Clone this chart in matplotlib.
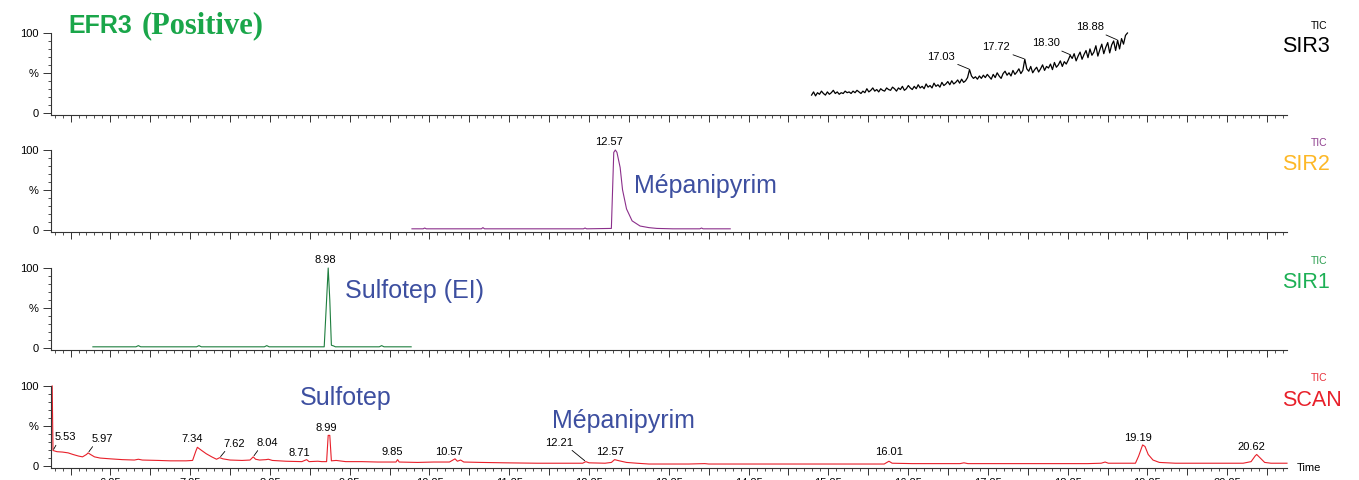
import numpy as np
import matplotlib
matplotlib.use('Agg')
import matplotlib.pyplot as plt


W, H = 1359, 480
X_MIN, X_MAX = 5.505, 21.0

# SIR3 (black): evenly sampled noisy trace between start and end time
SIR3_START, SIR3_END = 15.04, 19.00
SIR3_VALUES = [
    22, 26, 21, 25, 23, 27, 24, 22, 26, 23,
    25, 28, 24, 26, 23, 25, 24, 27, 25, 26,
    24, 27, 25, 28, 26, 24, 27, 25, 30, 26,
    28, 31, 27, 29, 26, 30, 28, 27, 31, 29,
    28, 32, 30, 27, 31, 29, 33, 28, 30, 34,
    31, 29, 33, 30, 35, 31, 33, 30, 36, 32,
    34, 31, 37, 33, 35, 32, 38, 34, 36, 39,
    35, 40, 36, 38, 41, 37, 42, 38, 40, 44,
    54, 46, 43, 45, 42, 46, 43, 47, 44, 48,
    45, 42, 48, 44, 50, 46, 43, 49, 52, 47,
    50, 46, 53, 48, 51, 55, 49, 53, 67, 55,
    52, 58, 50, 54, 57, 51, 55, 60, 53, 58,
    56, 61, 54, 63, 57, 60, 65, 58, 64, 61,
    66, 72, 68, 74, 65, 71, 76, 67, 73, 78,
    69, 80, 72, 76, 84, 71, 79, 86, 74, 82,
    88, 75, 85, 90, 78, 91, 80, 93, 86, 97,
    100,
]
SIR3_PEAKS = ['17.03', '17.72', '18.30', '18.88']
SIR3_PEAK_VALUES = [54, 67, 72, 91]

# SIR2 (purple)
SIR2_TIMES = [10.03, 10.17, 10.19, 10.21, 10.90, 10.92, 10.94, 12.18, 12.20, 12.22,
              12.53, 12.56, 12.58, 12.60, 12.64, 12.67, 12.72, 12.79, 12.89, 13.00,
              13.10, 13.30, 13.64, 13.66, 13.68, 14.02]
SIR2_VALUES = [1, 1, 2, 1, 1, 2.5, 1, 1, 2, 1,
               1.5, 97, 100, 97, 78, 50, 26, 11, 4.5, 2.5,
               1.5, 1, 1, 2, 1, 1]
SIR2_PEAKS = ['12.57']
SIR2_PEAK_VALUES = [100]

# SIR1 (green)
SIR1_TIMES = [6.03, 6.57, 6.60, 6.63, 7.33, 7.36, 7.39, 8.18, 8.21, 8.24,
              8.93, 8.96, 8.98, 9.00, 9.02, 9.05, 9.07, 9.62, 9.65, 9.68, 10.02]
SIR1_VALUES = [1, 1, 2.5, 1, 1, 2.5, 1, 1, 2.5, 1,
               1, 60, 100, 60, 3, 2, 1, 1, 2.5, 1, 1]
SIR1_PEAKS = ['8.98']
SIR1_PEAK_VALUES = [100]

# SCAN (red)
SCAN_TIMES = [5.52, 5.53, 5.58, 5.65, 5.72, 5.78, 5.85, 5.90, 5.95, 5.97,
              6.00, 6.05, 6.12, 6.25, 6.40, 6.55, 6.60, 6.65, 6.85, 7.00,
              7.20, 7.28, 7.32, 7.34, 7.38, 7.45, 7.52, 7.58, 7.62, 7.66,
              7.75, 7.90, 8.00, 8.04, 8.07, 8.12, 8.20, 8.23, 8.28, 8.45,
              8.65, 8.71, 8.74, 8.85, 8.90, 8.96, 8.98, 9.00, 9.02, 9.08,
              9.20, 9.40, 9.60, 9.83, 9.85, 9.87, 10.10, 10.30, 10.50, 10.57,
              10.60, 10.64, 10.68, 10.90, 11.20, 11.60, 12.00, 12.17, 12.21, 12.25,
              12.45, 12.53, 12.57, 12.63, 12.72, 12.85, 13.00, 13.50, 13.70, 13.75,
              14.50, 15.50, 15.95, 16.01, 16.05, 16.30, 16.90, 16.95, 17.00, 17.80,
              18.50, 18.67, 18.72, 18.76, 19.10, 19.14, 19.19, 19.22, 19.26, 19.32,
              19.40, 19.60, 20.00, 20.45, 20.55, 20.60, 20.62, 20.66, 20.72, 20.80,
              21.00]
SCAN_VALUES = [100, 19, 17.5, 17, 16, 14, 12, 11, 14, 16,
               14, 11, 9.5, 8.5, 7.5, 7, 8, 7, 6.5, 6,
               6, 6.5, 18, 23, 20, 15, 11, 8, 10, 8.5,
               7, 6.5, 7, 11, 8, 7, 7.5, 8, 6.5, 5.5,
               5, 7.5, 5, 5.5, 5, 5, 38, 38, 6, 6.5,
               5, 5, 4.5, 4.5, 7.5, 4.5, 4, 4.5, 4.5, 8.5,
               5.5, 7, 4.5, 4, 3.5, 3, 3, 3, 5, 3.5,
               3, 4, 7.5, 6, 4, 3, 2, 2, 2.5, 2,
               2, 2, 2, 5.5, 3, 2.5, 2.5, 3.5, 2.5, 2.5,
               2.5, 3, 4.5, 3, 3, 12, 26, 24, 14, 7,
               4, 3, 3, 3, 5, 12, 14, 10, 4, 3,
               3]
SCAN_PEAKS = ['5.53', '5.97', '7.34', '7.62', '8.04', '8.71', '8.99', '9.85',
              '10.57', '12.21', '12.57', '16.01', '19.19', '20.62']
SCAN_PEAK_VALUES = [19, 16, 23, 10, 11, 7.5, 38, 7.5, 8.5, 5, 7.5, 5.5, 26, 14]

# label offsets in pixels (dx, dy up) and whether a leader line is drawn
LABEL_OFFSETS = {
    '17.03': (-29, 8, True), '17.72': (-29, 7, True),
    '18.30': (-26, 7, True), '18.88': (-28, 8, True),
    '12.57a': (-6, 3, False), '8.98': (-3, 3, False),
    '5.53': (12, 8, True), '5.97': (14, 9, True), '7.34': (-5, 3, False),
    '7.62': (15, 9, True), '8.04': (14, 9, True), '8.71': (-7, 2, False),
    '8.99': (-3, 2, False), '9.85': (-5, 3, False), '10.57': (-6, 2, False),
    '12.21': (-27, 14, True), '12.57': (-5, 3, False), '16.01': (0, 4, False),
    '19.19': (-5, 2, False), '20.62': (-5, 2, False),
}

BLUE = '#3d4fa0'
GREEN_TITLE = '#1aa64a'


def fx(x):
    return x / W


def fy(y):
    return 1 - y / H


def setup_axes(ax, show_labels):
    ax.set_xlim(X_MIN, X_MAX)
    ax.set_ylim(-3, 100)
    ax.patch.set_alpha(0)
    for side in ('top', 'right'):
        ax.spines[side].set_visible(False)
    for side in ('left', 'bottom'):
        ax.spines[side].set_linewidth(0.8)
        ax.spines[side].set_color('#333333')

    major = np.arange(5.75, 21.0, 0.5)
    minor = [t for t in np.arange(5.55, 21.0, 0.1)
             if abs((t - 5.75) / 0.5 - round((t - 5.75) / 0.5)) > 0.05]
    ax.set_xticks(major)
    ax.set_xticks(minor, minor=True)
    if show_labels:
        ax.set_xticklabels(['%.2f' % t if abs(t % 1 - 0.25) < 0.01 else ''
                            for t in major])
    else:
        ax.set_xticklabels([])

    ax.set_yticks([0, 50, 100])
    ax.set_yticklabels(['0', '%', '100'])
    ax.set_yticks([10, 20, 30, 40, 60, 70, 80, 90], minor=True)

    ax.tick_params(which='major', direction='out', length=5, width=0.7,
                   labelsize=8, pad=2, color='#333333')
    ax.tick_params(which='minor', direction='out', length=2.5, width=0.6,
                   color='#333333')
    ax.tick_params(axis='y', which='major', length=6, pad=3)


def label_peaks(ax, peaks, values, key_suffix=''):
    for txt, val in zip(peaks, values):
        key = txt + key_suffix if txt + key_suffix in LABEL_OFFSETS else txt
        dx, dy, leader = LABEL_OFFSETS[key]
        arrow = None
        if leader:
            arrow = dict(arrowstyle='-', lw=0.6, color='black',
                         shrinkA=0, shrinkB=1,
                         relpos=(0.85, 0) if dx < 0 else (0.15, 0))
        ax.annotate(txt, xy=(float(txt), val),
                    xytext=(dx * 0.72, dy * 0.72), textcoords='offset points',
                    ha='center', va='bottom', fontsize=8, color='black',
                    arrowprops=arrow, annotation_clip=False)


def main():
    plt.rcParams['font.family'] = ['Liberation Sans', 'DejaVu Sans']
    fig = plt.figure(figsize=(W / 100, H / 100), dpi=100)

    left = fx(51)
    width = (1287 - 51) / W
    tops = [33, 150, 268, 386]
    height = 82 / H
    axes = []
    for i, top in enumerate(tops):
        ax = fig.add_axes([left, fy(top + 82), width, height])
        setup_axes(ax, i == 3)
        axes.append(ax)

    ax3, ax2, ax1, ax0 = axes

    sir3_t = np.linspace(SIR3_START, SIR3_END, len(SIR3_VALUES))
    ax3.plot(sir3_t, SIR3_VALUES, color='black', lw=0.9, clip_on=False)
    label_peaks(ax3, SIR3_PEAKS, SIR3_PEAK_VALUES)

    ax2.plot(SIR2_TIMES, SIR2_VALUES, color='#8b2f8b', lw=0.8, clip_on=False)
    label_peaks(ax2, SIR2_PEAKS, SIR2_PEAK_VALUES, 'a')

    ax1.plot(SIR1_TIMES, SIR1_VALUES, color='#1e7e3e', lw=0.8, clip_on=False)
    label_peaks(ax1, SIR1_PEAKS, SIR1_PEAK_VALUES)

    ax0.plot(SCAN_TIMES, SCAN_VALUES, color='#e8202a', lw=0.8, clip_on=False)
    label_peaks(ax0, SCAN_PEAKS, SCAN_PEAK_VALUES)
    ax0.annotate('Time', xy=(1, 0), xycoords='axes fraction',
                 xytext=(7, 0), textcoords='offset points',
                 ha='left', va='center', fontsize=8)

    # right-hand trace names
    names = [('SIR3', 'black', 'black', 26, 47),
             ('SIR2', '#8e3e8e', '#fdb827', 143, 164),
             ('SIR1', '#2a9d4f', '#1db055', 261, 282),
             ('SCAN', '#e8303a', '#e8202a', 378, 400)]
    for name, tic_color, color, y_tic, y_name in names:
        fig.text(fx(1311), fy(y_tic), 'TIC', color=tic_color, fontsize=7.5,
                 ha='left', va='center')
        fig.text(fx(1282), fy(y_name), name, color=color, fontsize=15.5,
                 ha='left', va='center')

    # title
    fig.text(fx(68), fy(33), 'EFR3', color=GREEN_TITLE, fontsize=18,
             fontweight='bold', ha='left', va='baseline')
    fig.text(fx(142), fy(33), '(Positive)', color=GREEN_TITLE, fontsize=22,
             fontweight='bold', ha='left', va='baseline',
             family='Liberation Serif')

    # compound names
    fig.text(fx(634), fy(186), 'Mépanipyrim', color=BLUE, fontsize=18,
             ha='left', va='center')
    fig.text(fx(345), fy(291), 'Sulfotep (EI)', color=BLUE, fontsize=18,
             ha='left', va='center')
    fig.text(fx(300), fy(398), 'Sulfotep', color=BLUE, fontsize=18,
             ha='left', va='center')
    fig.text(fx(552), fy(421), 'Mépanipyrim', color=BLUE, fontsize=18,
             ha='left', va='center')

    fig.savefig('out.png', dpi=100)


if __name__ == '__main__':
    main()
